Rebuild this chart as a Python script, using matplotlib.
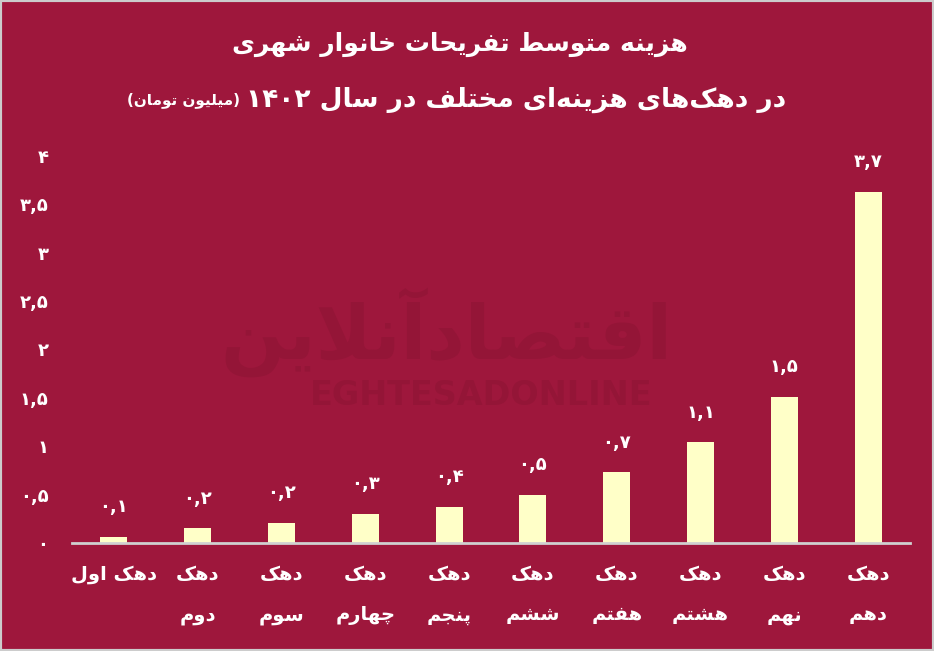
import numpy as np
import matplotlib
matplotlib.use("Agg")
import matplotlib.pyplot as plt
from matplotlib.patches import Rectangle

# -------------------------------------------------------
# DATA
# -------------------------------------------------------
title_1 = "هزینه متوسط تفریحات خانوار شهری"
title_2 = "در دهک\u200cهای هزینه\u200cای مختلف در سال ۱۴۰۲"
title_unit = "(میلیون تومان)"
deciles = ["دهک اول", "دهک\nدوم", "دهک\nسوم", "دهک\nچهارم", "دهک\nپنجم",
           "دهک\nششم", "دهک\nهفتم", "دهک\nهشتم", "دهک\nنهم", "دهک\nدهم"]
values = [0.06, 0.15, 0.21, 0.30, 0.37, 0.50, 0.73, 1.04, 1.51, 3.63]
value_labels = ["۰,۱", "۰,۲", "۰,۲", "۰,۳", "۰,۴", "۰,۵", "۰,۷", "۱,۱", "۱,۵", "۳,۷"]
y_ticks = [0, 0.5, 1, 1.5, 2, 2.5, 3, 3.5, 4]
y_tick_labels = ["۰", "۰,۵", "۱", "۱,۵", "۲", "۲,۵", "۳", "۳,۵", "۴"]

BG = "#9e173c"
BAR = "#ffffc8"
WM = "#941537"

# -------------------------------------------------------
# minimal arabic/persian shaping (no reshaper lib available)
# -------------------------------------------------------
FORMS = {
    "ا": ("\uFE8D", "\uFE8E", None, None),
    "آ": ("\uFE81", "\uFE82", None, None),
    "ب": ("\uFE8F", "\uFE90", "\uFE91", "\uFE92"),
    "ت": ("\uFE95", "\uFE96", "\uFE97", "\uFE98"),
    "ج": ("\uFE9D", "\uFE9E", "\uFE9F", "\uFEA0"),
    "ح": ("\uFEA1", "\uFEA2", "\uFEA3", "\uFEA4"),
    "خ": ("\uFEA5", "\uFEA6", "\uFEA7", "\uFEA8"),
    "د": ("\uFEA9", "\uFEAA", None, None),
    "ر": ("\uFEAD", "\uFEAE", None, None),
    "ز": ("\uFEAF", "\uFEB0", None, None),
    "س": ("\uFEB1", "\uFEB2", "\uFEB3", "\uFEB4"),
    "ش": ("\uFEB5", "\uFEB6", "\uFEB7", "\uFEB8"),
    "ص": ("\uFEB9", "\uFEBA", "\uFEBB", "\uFEBC"),
    "ط": ("\uFEC1", "\uFEC2", "\uFEC3", "\uFEC4"),
    "ف": ("\uFED1", "\uFED2", "\uFED3", "\uFED4"),
    "ق": ("\uFED5", "\uFED6", "\uFED7", "\uFED8"),
    "ل": ("\uFEDD", "\uFEDE", "\uFEDF", "\uFEE0"),
    "م": ("\uFEE1", "\uFEE2", "\uFEE3", "\uFEE4"),
    "ن": ("\uFEE5", "\uFEE6", "\uFEE7", "\uFEE8"),
    "ه": ("\uFEE9", "\uFEEA", "\uFEEB", "\uFEEC"),
    "و": ("\uFEED", "\uFEEE", None, None),
    "پ": ("\uFB56", "\uFB57", "\uFB58", "\uFB59"),
    "چ": ("\uFB7A", "\uFB7B", "\uFB7C", "\uFB7D"),
    "ک": ("\uFB8E", "\uFB8F", "\uFB90", "\uFB91"),
    "ی": ("\uFBFC", "\uFBFD", "\uFBFE", "\uFBFF"),
}
LAM_ALEF = {"ا": ("\uFEFB", "\uFEFC"), "آ": ("\uFEF5", "\uFEF6")}
DIGITS = set("۰۱۲۳۴۵۶۷۸۹0123456789,.")


def shape_line(text):
    out = []
    i = 0
    n = len(text)
    while i < n:
        c = text[i]
        if c not in FORMS:
            if c != "\u200c":
                out.append(c)
            i += 1
            continue
        prev = text[i - 1] if i > 0 else ""
        prev_joins = prev in FORMS and FORMS[prev][2] is not None
        if c == "ل" and i + 1 < n and text[i + 1] in LAM_ALEF:
            iso, fin = LAM_ALEF[text[i + 1]]
            out.append(fin if prev_joins else iso)
            i += 2
            continue
        nxt = text[i + 1] if i + 1 < n else ""
        dual = FORMS[c][2] is not None
        next_joins = dual and nxt in FORMS
        iso, fin, ini, med = FORMS[c]
        if prev_joins and next_joins:
            out.append(med)
        elif prev_joins:
            out.append(fin)
        elif next_joins:
            out.append(ini)
        else:
            out.append(iso)
        i += 1
    # visual order: reverse, keep number runs left-to-right
    out = out[::-1]
    res, run = [], []
    for ch in out:
        if ch in DIGITS:
            run.append(ch)
        else:
            res.extend(run[::-1])
            run = []
            res.append({"(": ")", ")": "("}.get(ch, ch))
    res.extend(run[::-1])
    return "".join(res)


def fa(text):
    return "\n".join(shape_line(t) for t in text.split("\n"))


plt.rcParams["font.family"] = ["DejaVu Sans"]

# -------------------------------------------------------
# FIGURE
# -------------------------------------------------------
fig = plt.figure(figsize=(9.34, 6.51), dpi=100, facecolor=BG)
ax = fig.add_axes([72 / 934, 1 - 543 / 651, 838 / 934, 387 / 651])
ax.set_facecolor(BG)

# watermark
fig.text(0.478, 0.49, fa("اقتصادآنلاین"), color=WM, fontsize=54,
         fontweight="bold", ha="center", va="center", zorder=0)
fig.text(0.515, 0.393, "EGHTESADONLINE", color=WM, fontsize=24,
         fontweight="bold", ha="center", va="center", zorder=0)

x = np.arange(len(values))
ax.bar(x, values, width=0.32, color=BAR, zorder=3)

for xi, v, lab in zip(x, values, value_labels):
    ax.annotate(lab, (xi, v), xytext=(0, 15), textcoords="offset points",
                ha="center", va="bottom", color="white", fontsize=13,
                fontweight="bold")

ax.set_xlim(-0.5, len(values) - 0.5)
ax.set_ylim(0, 4)
ax.set_yticks(y_ticks)
ax.set_yticklabels(y_tick_labels, color="white", fontsize=13, fontweight="bold")
ax.set_xticks(x)
ax.set_xticklabels([fa(d) for d in deciles], color="white", fontsize=14,
                   fontweight="bold", linespacing=2.4, va="top")
ax.tick_params(axis="both", length=0)
ax.tick_params(axis="y", pad=17)
ax.tick_params(axis="x", pad=16)

for s in ["top", "right", "left"]:
    ax.spines[s].set_visible(False)
ax.spines["bottom"].set_color("#d0d0d0")
ax.spines["bottom"].set_linewidth(2)
ax.spines["bottom"].set_zorder(4)

# titles
fig.text(0.492, 0.931, fa(title_1), color="white", fontsize=18,
         fontweight="bold", ha="center", va="center")
t2 = fig.text(0.553, 0.846, fa(title_2), color="white", fontsize=19,
              fontweight="bold", ha="center", va="center")
fig.canvas.draw()
bb = t2.get_window_extent(fig.canvas.get_renderer())
fig.text((bb.x0 - 6) / fig.bbox.width, 0.846, fa(title_unit), color="white",
         fontsize=11, fontweight="bold", ha="right", va="center")

# light frame round the image
fig.patches.append(Rectangle((0, 0), 1, 1, transform=fig.transFigure,
                             fill=False, edgecolor="#cccccc", linewidth=3))

fig.savefig("out.png", dpi=100, facecolor=BG)
